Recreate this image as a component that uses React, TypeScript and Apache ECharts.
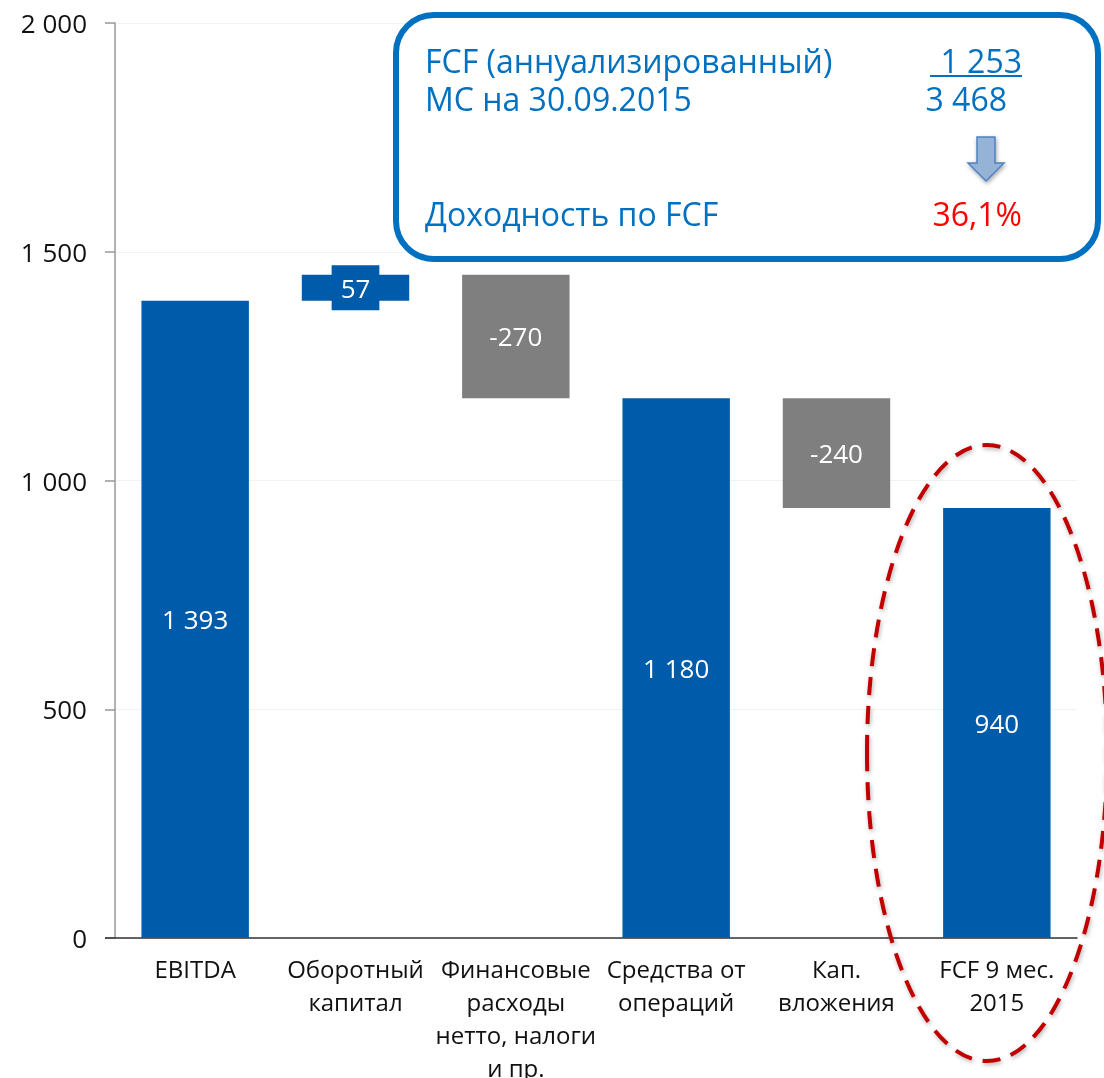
import React, { useEffect, useRef } from "react";
import * as echarts from "echarts";

const categories = [
  "EBITDA",
  "Оборотный\nкапитал",
  "Финансовые\nрасходы\nнетто, налоги\nи пр.",
  "Средства от\nопераций",
  "Кап.\nвложения",
  "FCF 9 мес.\n2015",
];
const values = [1393, 57, -270, 1180, -240, 940];
const isTotal = [true, false, false, true, false, true];
const yTicks = [0, 500, 1000, 1500, 2000];

const boxLabels = ["FCF (аннуализированный)", "МС на 30.09.2015", "Доходность по FCF"];
const boxValues = ["1 253", "3 468", "36,1%"];

const BLUE = "#005BAA";
const GRAY = "#7F7F7F";
const FONT = "Open Sans";

function fmt(v: number): string {
  const s = Math.abs(v).toString().replace(/\B(?=(\d{3})+(?!\d))/g, " ");
  return (v < 0 ? "-" : "") + s;
}

export default function App() {
  const ref = useRef<HTMLDivElement>(null);
  useEffect(() => {
    if (!ref.current) return;
    const chart = echarts.init(ref.current, undefined, { renderer: "svg" });

    const bases: number[] = [];
    const heights: number[] = [];
    let running = 0;
    values.forEach((v, i) => {
      if (isTotal[i]) {
        running = v;
        bases.push(0);
        heights.push(v);
      } else if (v >= 0) {
        bases.push(running);
        heights.push(v);
        running += v;
      } else {
        running += v;
        bases.push(running);
        heights.push(-v);
      }
    });

    const barData = heights.map((h, i) => {
      const neg = values[i] < 0;
      const small = !isTotal[i] && h < 100;
      return {
        value: h,
        itemStyle: { color: neg ? GRAY : BLUE },
        label: {
          show: true,
          position: "inside",
          formatter: fmt(values[i]),
          color: "#fff",
          fontSize: 26,
          fontFamily: FONT,
          ...(small
            ? { backgroundColor: BLUE, padding: [9, 9], lineHeight: 27 }
            : {}),
        },
      };
    });

    const boxText = (x: number, y: number, text: string, fill: string, align: string) => ({
      type: "text",
      x,
      y,
      style: {
        text,
        fill,
        fontSize: 32,
        fontFamily: FONT,
        lineHeight: 34,
        align,
        verticalAlign: "middle",
      },
      z: 31,
    });

    chart.setOption({
      animation: false,
      grid: {
        left: 115,
        right: 27,
        top: 23,
        bottom: 140,
        containLabel: false,
        outerBoundsMode: "none",
      },
      xAxis: {
        type: "category",
        data: categories,
        axisLine: { lineStyle: { color: "#333", width: 1.5 } },
        axisTick: { show: false },
        axisLabel: {
          interval: 0,
          color: "#111",
          fontSize: 24,
          fontFamily: FONT,
          lineHeight: 33,
          margin: 14,
        },
      },
      yAxis: {
        type: "value",
        min: yTicks[0],
        max: yTicks[yTicks.length - 1],
        interval: 500,
        axisLine: { show: true, lineStyle: { color: "#999", width: 1.5 } },
        axisTick: { show: true, length: 10, lineStyle: { color: "#999", width: 1.5 } },
        splitLine: { lineStyle: { color: "#F2F2F2", width: 1 } },
        axisLabel: {
          color: "#111",
          fontSize: 26,
          fontFamily: FONT,
          margin: 28,
          formatter: (v: number) => fmt(v),
        },
      },
      series: [
        {
          type: "bar",
          stack: "wf",
          data: bases,
          itemStyle: { color: "transparent" },
          silent: true,
          barCategoryGap: "33%",
        },
        {
          type: "bar",
          stack: "wf",
          data: barData,
          barCategoryGap: "33%",
        },
      ],
      graphic: [
        {
          type: "line",
          shape: { x1: 105, y1: 938, x2: 115, y2: 938 },
          style: { stroke: "#333", lineWidth: 1.5 },
          z: 10,
        },
        {
          type: "ellipse",
          shape: { cx: 987, cy: 753, rx: 120, ry: 308 },
          style: {
            fill: "none",
            stroke: "#C00000",
            lineWidth: 4,
            lineDash: [18, 11],
            shadowBlur: 4,
            shadowColor: "rgba(0,0,0,0.3)",
            shadowOffsetX: 1,
            shadowOffsetY: 2,
          },
          z: 20,
        },
        {
          type: "rect",
          shape: { x: 396, y: 15, width: 702, height: 244, r: 38 },
          style: { fill: "#fff", stroke: "#0070C0", lineWidth: 6 },
          z: 30,
        },
        boxText(425, 60, boxLabels[0], "#0070C0", "left"),
        boxText(425, 98, boxLabels[1], "#0070C0", "left"),
        boxText(425, 213, boxLabels[2], "#0070C0", "left"),
        boxText(1022, 60, boxValues[0], "#0070C0", "right"),
        {
          type: "line",
          shape: { x1: 930, y1: 76, x2: 1022, y2: 76 },
          style: { stroke: "#0070C0", lineWidth: 2 },
          z: 31,
        },
        boxText(1007, 98, boxValues[1], "#0070C0", "right"),
        boxText(1022, 213, boxValues[2], "#FF0000", "right"),
        {
          type: "polygon",
          shape: {
            points: [
              [977, 137],
              [995, 137],
              [995, 163],
              [1004, 163],
              [986, 181],
              [968, 163],
              [977, 163],
            ],
          },
          style: {
            fill: "#95B3D7",
            stroke: "#4F81BD",
            lineWidth: 1.5,
            shadowBlur: 4,
            shadowColor: "rgba(0,0,0,0.35)",
            shadowOffsetX: 1,
            shadowOffsetY: 2,
          },
          z: 31,
        },
      ],
    });
    return () => chart.dispose();
  }, []);
  return (
    <div
      ref={ref}
      style={{ position: "fixed", left: 0, top: 0, width: 1104, height: 1078 }}
    />
  );
}
